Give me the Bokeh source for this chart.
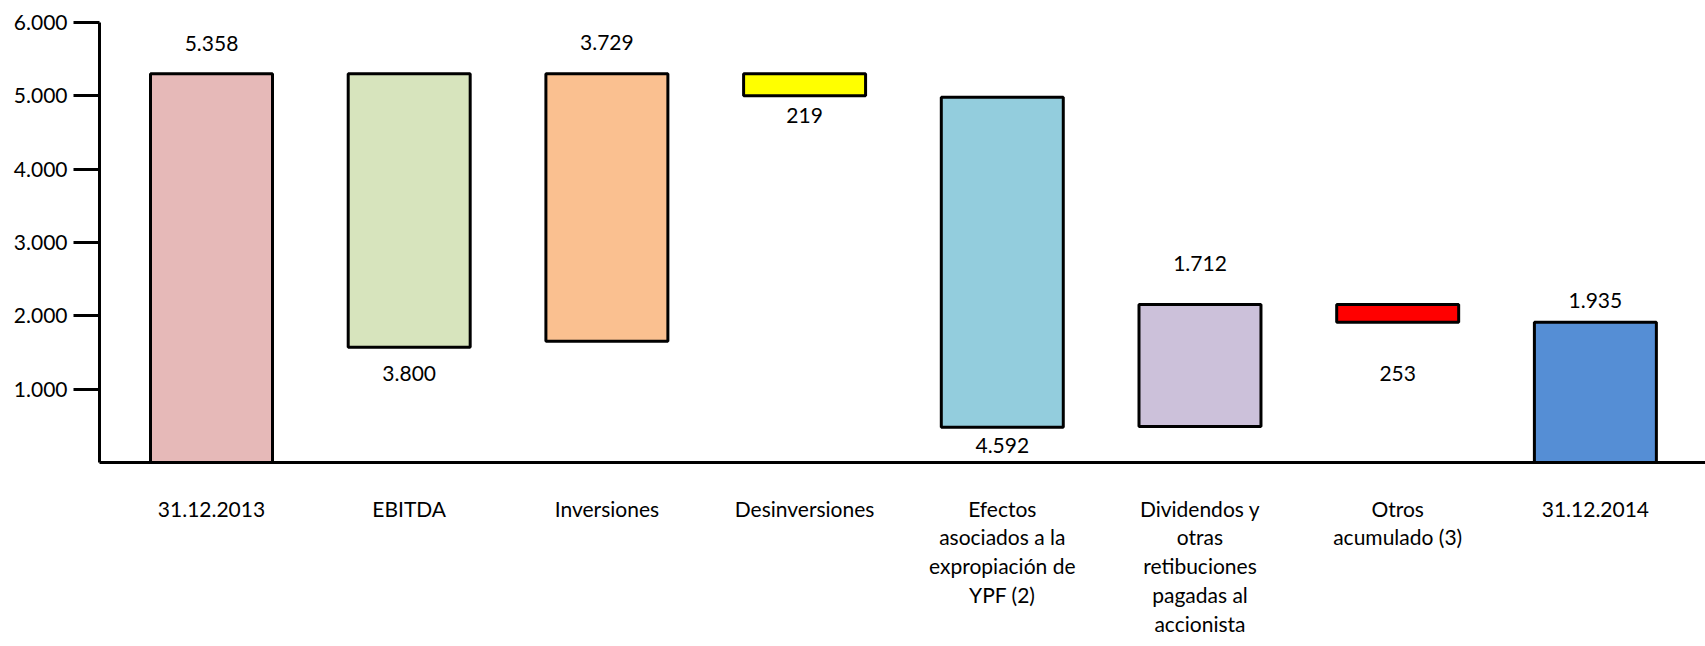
from bokeh.plotting import figure
from bokeh.models import ColumnDataSource, FixedTicker, Range1d, LinearAxis
from bokeh.core.properties import value
from bokeh.embed import file_html
from bokeh.resources import INLINE

categories = ["31.12.2013", "EBITDA", "Inversiones", "Desinversiones",
              "Efectos\nasociados a la\nexpropiación de\nYPF (2)",
              "Dividendos y\notras\nretibuciones\npagadas al\naccionista",
              "Otros\nacumulado (3)", "31.12.2014"]
values = [5358, 3800, 3729, 219, 4592, 1712, 253, 1935]
bar_bottom = [0, 1572, 1654, 5000, 481, 491, 1913, 0]
bar_top = [5300, 5300, 5300, 5300, 4982, 2155, 2155, 1913]
label_y = [5714, 1218, 5722, 4732, 232, 2710, 1214, 2209]
colors = ["#E6B9B8", "#D7E4BD", "#FAC090", "#FFFF00", "#93CDDD", "#CCC1DA", "#FF0000", "#558ED5"]
y_ticks = [1000, 2000, 3000, 4000, 5000, 6000]

def fmt(v):
    return f"{v:,}".replace(",", ".")

idx = list(range(len(categories)))
src = ColumnDataSource(dict(x=idx, bottom=bar_bottom, top=bar_top, color=colors,
                            ly=label_y, lbl=[fmt(v) for v in values]))

FONT = "Lato"
p = figure(width=1705, height=646, output_backend="svg", toolbar_location=None,
           x_range=Range1d(-0.5665, 7.557), y_range=Range1d(0, 6000),
           min_border_left=99, min_border_right=0, min_border_top=22, min_border_bottom=184,
           x_axis_location=None, y_axis_location=None)
p.outline_line_color = None
p.xgrid.visible = False
p.ygrid.visible = False
p.background_fill_color = "white"
p.border_fill_color = "white"

p.vbar(x="x", bottom="bottom", top="top", width=0.617, fill_color="color",
       line_color="black", line_width=3, source=src)

p.text(x="x", y="ly", text="lbl", source=src, text_align="center", text_baseline="middle",
       text_font=value(FONT), text_font_size="21px", text_color="black")

yax = LinearAxis(ticker=FixedTicker(ticks=y_ticks),
                 major_label_overrides={t: fmt(t) for t in y_ticks})
yax.axis_line_width = 3
yax.axis_line_color = "black"
yax.major_tick_line_width = 3
yax.major_tick_line_color = "black"
yax.major_tick_out = 26
yax.major_tick_in = 0
yax.minor_tick_out = 0
yax.minor_tick_in = 0
yax.major_label_standoff = 6
yax.major_label_text_font = FONT
yax.major_label_text_font_size = "21px"
yax.major_label_text_color = "black"
p.add_layout(yax, "left")

xax = LinearAxis(ticker=FixedTicker(ticks=idx),
                 major_label_overrides={i: c for i, c in zip(idx, categories)})
xax.axis_line_width = 3
xax.axis_line_color = "black"
xax.major_tick_out = 0
xax.major_tick_in = 0
xax.minor_tick_out = 0
xax.minor_tick_in = 0
xax.major_tick_line_color = None
xax.major_label_standoff = 33
xax.major_label_text_font = FONT
xax.major_label_text_font_size = "21px"
xax.major_label_text_color = "black"
xax.major_label_text_line_height = 1.15
p.add_layout(xax, "below")

open("out.html", "w").write(file_html(p, INLINE))
